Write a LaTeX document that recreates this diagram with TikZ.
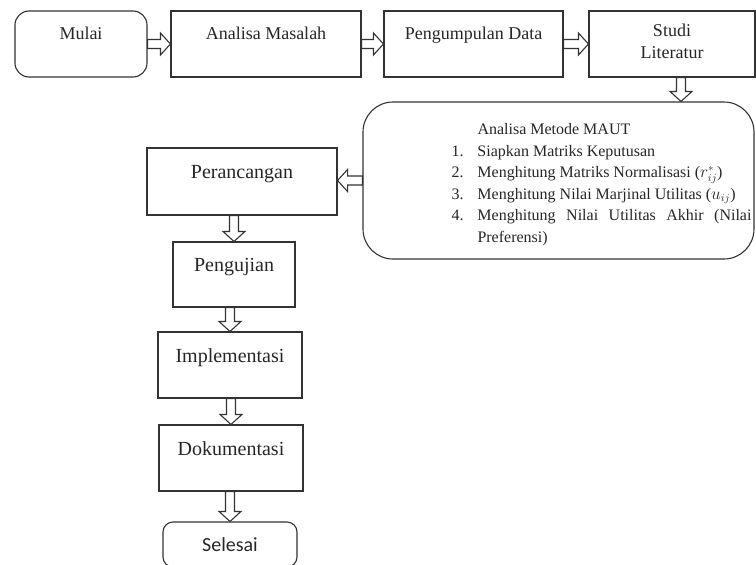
\documentclass[tikz,border=0pt]{standalone}
\usepackage{fontspec}
\setmainfont{Liberation Serif}
\newfontfamily\selesaifont{Carlito}
\usepackage{tikz}
\usetikzlibrary{positioning,
                calc}                       % coordinate calculations

\tikzset{
  kotak/.style={draw=black!80, line width=1.1pt, text=black!85, inner sep=0pt},
  tahap/.style={kotak, text height=12pt, text depth=18pt},
  atas/.style={tahap, text depth=21pt, minimum height=66pt},
  terminal/.style={kotak, rounded corners=12pt},
  panah/.style={draw=black!80, line width=1.1pt, fill=white, to path={
      let \p1=(\tikztostart), \p2=(\tikztotarget), \p3=($(\p2)!10pt!(\p1)$) in
      ($(\p1)!4.5pt!90:(\p2)$) -- ($(\p3)!4.5pt!90:(\p2)$) -- ($(\p3)!11pt!90:(\p2)$)
      -- (\p2) -- ($(\p3)!11pt!-90:(\p2)$) -- ($(\p3)!4.5pt!-90:(\p2)$)
      -- ($(\p1)!4.5pt!-90:(\p2)$) -- cycle}}
}

\begin{document}
\begin{tikzpicture}[x=1pt, y=-1pt, font=\fontsize{18}{22}\selectfont]
        \useasboundingbox (0,0) rectangle (756,565);
        % baris atas
        \node[terminal, atas, rounded corners=14pt, minimum width=132pt] (mulai) at (81,44) {Mulai};
        \node[atas, minimum width=190pt] (masalah) at (266,44) {Analisa Masalah};
        \node[atas, minimum width=179pt] (data) at (473.5,44) {Pengumpulan Data};
        \node[kotak, text height=15pt, text depth=9pt, minimum width=166pt, minimum height=66pt] (studi) at (672,44)
          {\begin{tabular}{@{}c@{}}Studi\\Literatur\end{tabular}};

        % metode MAUT
        \node[kotak, rounded corners=30pt, minimum width=391pt, minimum height=157pt,
              font=\fontsize{16}{21.5}\selectfont] (maut) at (558.5,180.5)
        {\hspace*{86pt}\begin{minipage}{300pt}
          \hspace*{26pt}Analisa Metode MAUT\par
          \makebox[26pt][l]{1.}Siapkan Matriks Keputusan\par
          \makebox[26pt][l]{2.}Menghitung Matriks Normalisasi ($r^{*}_{ij}$)\par
          \makebox[26pt][l]{3.}Menghitung Nilai Marjinal Utilitas ($u_{ij}$)\par
          \hangindent=26pt\makebox[26pt][l]{4.}Menghitung Nilai Utilitas Akhir (Nilai\linebreak Preferensi)\par
          \vspace*{-8pt}
        \end{minipage}};

        % kolom kiri
        \node[tahap, font=\fontsize{20}{24}\selectfont, minimum width=190pt, minimum height=67pt] (perancangan) at (242,181.5) {Perancangan};
        \node[tahap, font=\fontsize{20}{24}\selectfont, minimum width=122pt, minimum height=65pt] (pengujian) at (234,274.5) {Pengujian};
        \node[tahap, font=\fontsize{20}{24}\selectfont, minimum width=144pt, minimum height=66pt] (implementasi) at (230,365) {Implementasi};
        \node[tahap, font=\fontsize{20}{24}\selectfont, minimum width=144pt, minimum height=66pt] (dokumentasi) at (231,458) {Dokumentasi};
        \node[terminal, rounded corners=10pt, font=\selesaifont\fontsize{20}{24}\selectfont,
              minimum width=134pt, minimum height=45pt] (selesai) at (230,544.5) {Selesai};

        % panah
        \draw[panah] (mulai.east) to (masalah.west);
        \draw[panah] (masalah.east) to (data.west);
        \draw[panah] (data.east) to (studi.west);
        \draw[panah] ([xshift=9pt]studi.south) to ([xshift=9pt]studi.south |- maut.north);
        \draw[panah] (maut.west) to (maut.west -| perancangan.east);
        \draw[panah] (pengujian.north |- perancangan.south) to (pengujian.north);
        \draw[panah] (implementasi.north |- pengujian.south) to (implementasi.north);
        \draw[panah] (dokumentasi.north |- implementasi.south) to (dokumentasi.north);
        \draw[panah] (selesai.north |- dokumentasi.south) to (selesai.north);

    \end{tikzpicture}
\end{document}
